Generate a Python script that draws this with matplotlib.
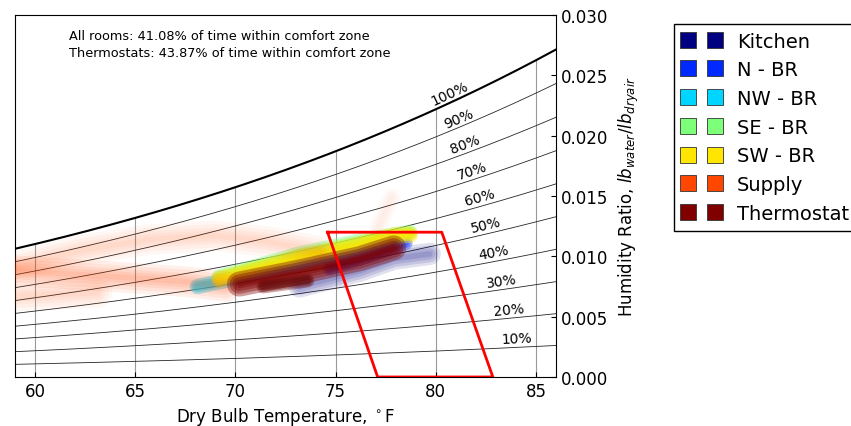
import numpy as np
import matplotlib
matplotlib.use('Agg')
import matplotlib.pyplot as plt
from matplotlib.lines import Line2D

# room names (legend order) and jet colours
rooms = ['Kitchen', 'N - BR', 'NW - BR', 'SE - BR', 'SW - BR', 'Supply', 'Thermostat']
colors = plt.cm.jet(np.linspace(0, 1, len(rooms)))

# traced tracks of each room's (dry bulb F, humidity ratio) cloud
kitchen_T = [73.2, 76.2, 77.9, 79.7]
kitchen_W = [0.0075, 0.0088, 0.0098, 0.0102]
nbr_T = [74.7, 76.8, 78.5]
nbr_W = [0.0090, 0.0101, 0.0111]
nwbr_T = [68.1, 69.5, 74.0, 78.0]
nwbr_W = [0.0075, 0.0080, 0.0097, 0.0114]
sebr_T = [69.2, 73.2, 76.0, 78.7]
sebr_W = [0.0083, 0.0102, 0.0112, 0.0120]
swbr_T = [69.2, 73.2, 76.0, 77.9, 78.7]
swbr_W = [0.0081, 0.0099, 0.0109, 0.0117, 0.0118]
supply_tracks = [
    ([59.0, 62.3, 65.7, 69.0, 71.7, 74.2], [0.0091, 0.0105, 0.0114, 0.0117, 0.0112, 0.0104]),
    ([59.0, 64.0, 67.5, 69.5], [0.0088, 0.0083, 0.0079, 0.0075]),
    ([59.0, 63.1], [0.0067, 0.0070]),
]
plume_T = [77.1, 77.8]
plume_W = [0.0123, 0.0149]
thermo_tracks = [
    ([70.2, 73.2, 76.2, 77.9], [0.0077, 0.0087, 0.0098, 0.0107]),
    ([71.4, 73.6], [0.0075, 0.0080]),
]

# ASHRAE-style comfort zone outline
comfort_T = [74.6, 80.3, 82.85, 77.1, 74.6]
comfort_W = [0.012, 0.012, 0.0, 0.0, 0.012]

rh_levels = [10, 20, 30, 40, 50, 60, 70, 80, 90, 100]
rh_label_T = [84.05, 83.7, 83.35, 82.95, 82.6, 82.3, 81.95, 81.6, 81.26, 80.86]
grid_T = [60, 65, 70, 75, 80, 85]


def hum_ratio(t_f, rh):
    tc = (np.asarray(t_f, dtype=float) - 32) / 1.8
    pws = 0.61094 * np.exp(17.625 * tc / (tc + 243.04))
    pw = rh / 100.0 * pws
    return 0.621945 * pw / (101.325 - pw)


fig = plt.figure(figsize=(8.51, 4.27), dpi=100)
ax = fig.add_axes([0.0176, 0.1148, 0.6357, 0.8477])
ax.set_xlim(59, 86)
ax.set_ylim(0, 0.030)

t = np.linspace(59, 86, 200)
for rh in rh_levels:
    if rh == 100:
        ax.plot(t, hum_ratio(t, rh), color='k', lw=1.5, zorder=2)
    else:
        ax.plot(t, hum_ratio(t, rh), color='0.15', lw=0.6, zorder=2)
ax.vlines(grid_T, 0, hum_ratio(grid_T, 100), color='0.6', lw=0.8, zorder=1)

# rh labels following the curves
for rh, tl in zip(rh_levels, rh_label_T):
    w = hum_ratio(tl, rh)
    p1 = ax.transData.transform((tl - 0.3, hum_ratio(tl - 0.3, rh)))
    p2 = ax.transData.transform((tl + 0.3, hum_ratio(tl + 0.3, rh)))
    ang = np.degrees(np.arctan2(p2[1] - p1[1], p2[0] - p1[0]))
    ax.annotate('%d%%' % rh, (tl, w), xytext=(0, 1.5), textcoords='offset points',
                ha='center', va='bottom', rotation=ang, rotation_mode='anchor',
                fontsize=10, zorder=6)


def smear(T, W, c, widths, alpha):
    for lw in widths:
        ax.plot(T, W, color=c, lw=lw, alpha=alpha, solid_capstyle='round',
                solid_joinstyle='round', zorder=3)


smear(kitchen_T, kitchen_W, colors[0], [16, 12, 8, 4], 0.12)
smear(nbr_T, nbr_W, colors[1], [10, 7, 4], 0.35)
smear(nwbr_T, nwbr_W, colors[2], [11, 8, 5], 0.4)
smear(sebr_T, sebr_W, colors[3], [11, 8, 5], 0.4)
smear(swbr_T, swbr_W, colors[4], [12, 9, 6, 3], 0.45)
for i, (T, W) in enumerate(supply_tracks):
    a = 0.08 if i == 1 else 0.045
    smear(T, W, colors[5], [22, 17, 12, 8, 4], a)
smear(plume_T, plume_W, colors[5], [12, 8, 4], 0.03)
smear(thermo_tracks[0][0], thermo_tracks[0][1], colors[6], [18, 14, 10, 6, 3], 0.38)
smear(thermo_tracks[1][0], thermo_tracks[1][1], '0.05', [8, 5], 0.25)
smear(thermo_tracks[1][0], thermo_tracks[1][1], colors[6], [10, 6], 0.35)

ax.plot(comfort_T, comfort_W, color='red', lw=2, zorder=5)

ax.text(0.1, 0.96, 'All rooms: 41.08% of time within comfort zone\n'
        'Thermostats: 43.87% of time within comfort zone',
        transform=ax.transAxes, ha='left', va='top', fontsize=9.3, linespacing=1.35)

ax.yaxis.tick_right()
ax.yaxis.set_label_position('right')
ax.tick_params(direction='in', labelsize=12)
ax.set_xticks(grid_T)
ax.set_yticks([0, 0.005, 0.010, 0.015, 0.020, 0.025, 0.030])
ax.set_yticklabels(['0.000', '0.005', '0.010', '0.015', '0.020', '0.025', '0.030'])
ax.set_xlabel('Dry Bulb Temperature, $^\\circ$F', fontsize=12)
ax.set_ylabel('Humidity Ratio, $lb_{water}/lb_{dryair}$', fontsize=12, labelpad=6)

handles = [Line2D([], [], marker='s', ls='none', mfc=c, mec='0.2', mew=0.6, ms=12)
           for c in colors]
fig.legend(handles, rooms, loc='upper left', bbox_to_anchor=(0.792, 0.942),
           borderaxespad=0, numpoints=2, fontsize=14, handlelength=2.0,
           handletextpad=0.85, labelspacing=0.5, borderpad=0.4, fancybox=False,
           edgecolor='k', framealpha=1)

fig.savefig('out.png', dpi=100)
